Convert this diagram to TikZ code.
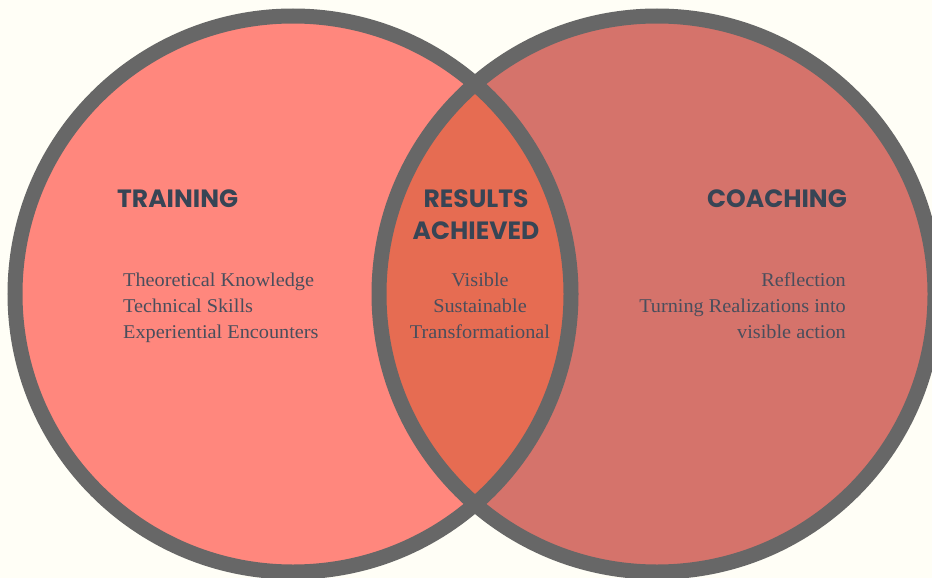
\documentclass[tikz,border=0pt]{standalone}
\usepackage{fontspec}
\setmainfont{Liberation Serif}[FakeStretch=1.04]
\newfontfamily\headfont{Poppins}
\definecolor{bgcol}{HTML}{FFFEF6}
\definecolor{leftcol}{HTML}{FF877D}
\definecolor{rightcol}{HTML}{D5736B}
\definecolor{lenscol}{HTML}{E66C52}
\definecolor{ringcol}{HTML}{676767}
\definecolor{headcol}{HTML}{374555}
\definecolor{bodycol}{HTML}{4A4E5C}
\tikzset{
  ring/.style={draw=ringcol, line width=15pt},
  heading/.style={inner sep=0pt, text=headcol, font=\headfont\bfseries\fontsize{25}{32}\selectfont},
  bodytext/.style={inner sep=0pt, text=bodycol, font=\fontsize{19.5}{26}\selectfont},
}
\begin{document}
\begin{tikzpicture}[x=1pt,y=-1pt]
\useasboundingbox (0,0) rectangle (932,578);
\clip (0,0) rectangle (932,578);
\fill[bgcol] (0,0) rectangle (932,578);
\coordinate (cl) at (293,294);
\coordinate (cr) at (657,294);
\fill[leftcol] (cl) circle (278);
\fill[rightcol] (cr) circle (278);
\begin{scope}
  \clip (cl) circle (278);
  \fill[lenscol] (cr) circle (278);
\end{scope}
\draw[ring] (cl) circle (278);
\draw[ring] (cr) circle (278);

\node[heading, anchor=base west] (train) at (117,207) {TRAINING};
\node[heading, anchor=base] (res1) at (476,207) {RESULTS};
\node[heading, anchor=base] (res2) at (476,239) {ACHIEVED};
\node[heading, anchor=base east] (coach) at (847,207) {COACHING};

\node[bodytext, anchor=base west] (l1) at (123,286) {Theoretical Knowledge};
\node[bodytext, anchor=base west] (l2) at (123,312) {Technical Skills};
\node[bodytext, anchor=base west] (l3) at (123,338) {Experiential Encounters};

\node[bodytext, anchor=base] (m1) at (480,286) {Visible};
\node[bodytext, anchor=base] (m2) at (480,312) {Sustainable};
\node[bodytext, anchor=base] (m3) at (480,338) {Transformational};

\node[bodytext, anchor=base east] (r1) at (846,286) {Reflection};
\node[bodytext, anchor=base east] (r2) at (846,312) {Turning Realizations into};
\node[bodytext, anchor=base east] (r3) at (846,338) {visible action};
\end{tikzpicture}
\end{document}
